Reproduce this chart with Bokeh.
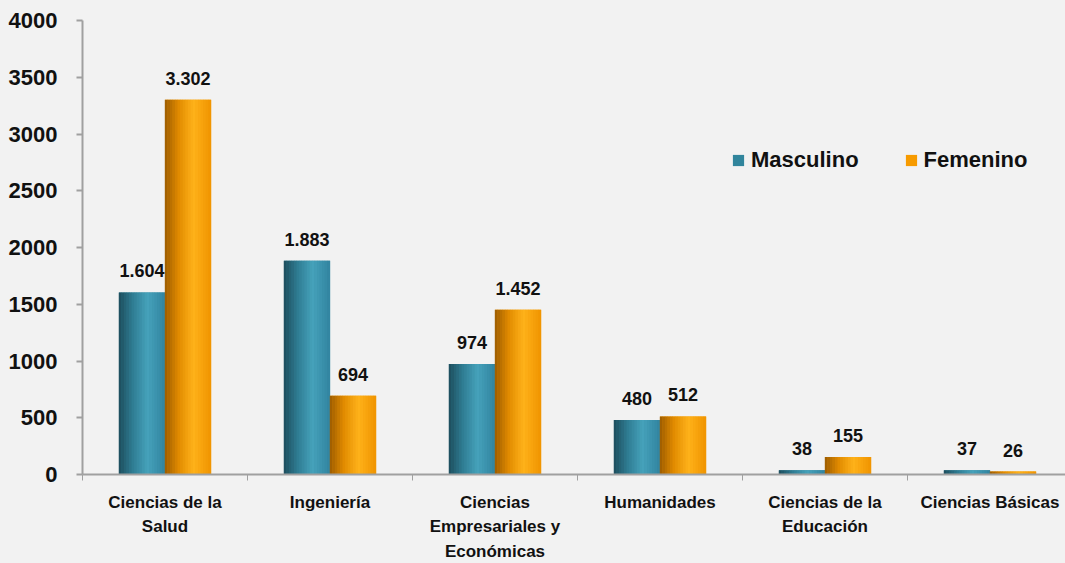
from bokeh.plotting import figure
from bokeh.models import Range1d, FixedTicker, Legend, LegendItem, ColumnDataSource
from bokeh.core.properties import value
from bokeh.embed import file_html
from bokeh.resources import INLINE
from jinja2 import Template

categories = ["Ciencias de la\nSalud", "Ingeniería", "Ciencias\nEmpresariales y\nEconómicas",
              "Humanidades", "Ciencias de la\nEducación", "Ciencias Básicas"]
masculino = [1604, 1883, 974, 480, 38, 37]
femenino = [3302, 694, 1452, 512, 155, 26]
y_ticks = [0, 500, 1000, 1500, 2000, 2500, 3000, 3500, 4000]

def fmt(v):
    return f"{v:,}".replace(",", ".")

FONT = "Liberation Sans"
BG = "#F2F2F2"

p = figure(width=1065, height=563, output_backend="svg", toolbar_location=None,
           x_range=Range1d(0, 983 / 165), y_range=Range1d(0, 4000),
           min_border_left=82, min_border_right=0, min_border_top=20, min_border_bottom=87)
p.background_fill_color = BG
p.border_fill_color = BG
p.outline_line_color = None
p.grid.visible = False

n = len(categories)
centers = [i + 0.5 for i in range(n)]
bw = 0.279
off = 0.1395

def lerp(c1, c2, t):
    a = [int(c1[i:i + 2], 16) for i in (1, 3, 5)]
    b = [int(c2[i:i + 2], 16) for i in (1, 3, 5)]
    return "#" + "".join(f"{round(a[j] + (b[j] - a[j]) * t):02x}" for j in range(3))

def grad(stops, t):
    for (t0, c0), (t1, c1) in zip(stops, stops[1:]):
        if t0 <= t <= t1:
            return lerp(c0, c1, (t - t0) / (t1 - t0))
    return stops[-1][1]

teal_stops = [(0, "#1d4d5c"), (0.3, "#2f7c92"), (0.62, "#46a2bb"), (1, "#3284a0")]
orange_stops = [(0, "#9c5c00"), (0.3, "#e08a00"), (0.62, "#ffb21a"), (1, "#f09400")]

series = [("Masculino", masculino, -off, "#31859C", teal_stops),
          ("Femenino", femenino, off, "#F79B00", orange_stops)]
NS = 18
legend_items = []
for name, vals, o, base, stops in series:
    xs = [c + o for c in centers]
    r = p.vbar(x=xs, top=vals, bottom=0, width=bw, color=base, line_color=None)
    legend_items.append(LegendItem(label=name, renderers=[r]))
    sw = bw / NS
    for k in range(NS):
        t = (k + 0.5) / NS
        xk = [x - bw / 2 + (k + 0.5) * sw for x in xs]
        p.vbar(x=xk, top=vals, bottom=0, width=sw * 1.15, color=grad(stops, t), line_color=None)
    src = ColumnDataSource(dict(x=xs, y=vals, t=[fmt(v) for v in vals]))
    p.text(x="x", y="y", text="t", source=src, text_align="center", text_baseline="bottom",
           y_offset=-15, text_font=value(FONT), text_font_style="bold",
           text_font_size="18px", text_color="#111111")

legend = Legend(items=legend_items, orientation="horizontal", location=(649, 301),
                padding=0, margin=0, spacing=45, label_standoff=6,
                glyph_width=14, glyph_height=14, label_height=24,
                label_text_font=FONT, label_text_font_style="bold",
                label_text_font_size="22px", label_text_color="#111111",
                border_line_color=None, background_fill_alpha=0)
p.add_layout(legend)

# Y axis
ya = p.yaxis[0]
ya.ticker = FixedTicker(ticks=y_ticks, minor_ticks=[])
ya.axis_line_color = "#A0A0A0"
ya.axis_line_width = 2
ya.major_tick_line_color = "#A0A0A0"
ya.major_tick_line_width = 2
ya.major_tick_out = 6
ya.major_tick_in = 0
ya.minor_tick_line_color = None
ya.major_label_standoff = 19
ya.major_label_text_font = FONT
ya.major_label_text_font_style = "bold"
ya.major_label_text_font_size = "22px"
ya.major_label_text_color = "#111111"

# X axis
xa = p.xaxis[0]
xa.ticker = FixedTicker(ticks=centers, minor_ticks=list(range(n + 1)))
xa.major_label_overrides = {c: lab for c, lab in zip(centers, categories)}
xa.axis_line_color = "#A0A0A0"
xa.axis_line_width = 2
xa.major_tick_line_color = None
xa.major_tick_out = 0
xa.major_tick_in = 0
xa.minor_tick_line_color = "#A0A0A0"
xa.minor_tick_line_width = 1
xa.minor_tick_out = 6
xa.minor_tick_in = 0
xa.major_label_standoff = 12
xa.major_label_text_font = FONT
xa.major_label_text_font_style = "bold"
xa.major_label_text_font_size = "17px"
xa.major_label_text_color = "#111111"
xa.major_label_text_line_height = 1.3

template = Template("""{% extends base %}
{% block postamble %}<style>body{background:#F2F2F2;}</style>{% endblock %}""")

open("out.html", "w").write(file_html(p, INLINE, template=template))
